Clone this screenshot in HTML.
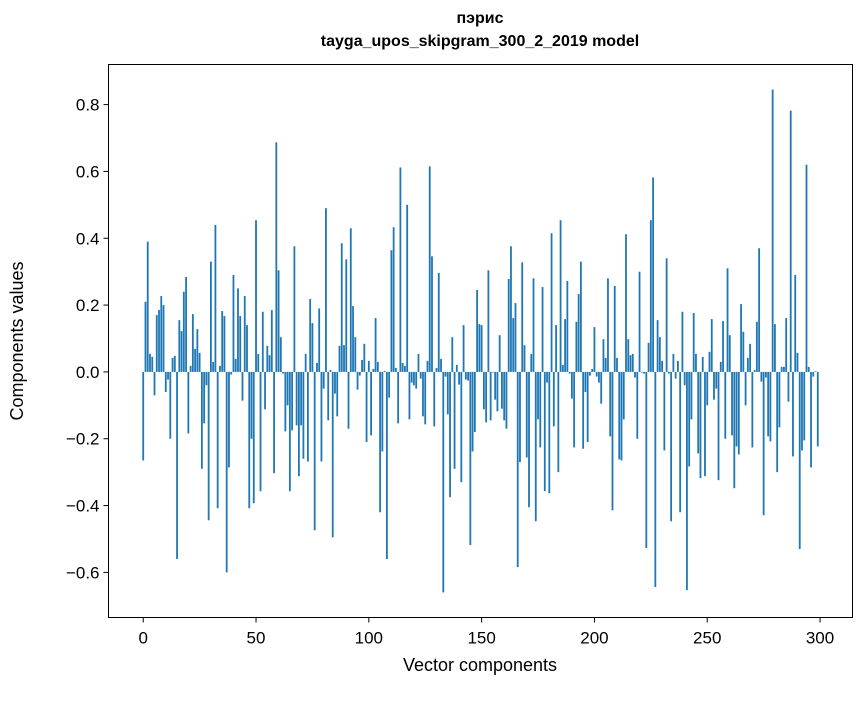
<!DOCTYPE html>
<html><head><meta charset="utf-8"><style>
body{margin:0;background:#fff;}
svg text{font-family:"Liberation Sans","DejaVu Sans",sans-serif;fill:#000;}
</style></head><body>
<svg id="chart" width="867" height="696" xmlns="http://www.w3.org/2000/svg">
<rect width="867" height="696" fill="#fff"/>
<text x="480" y="23" text-anchor="middle" font-size="16" font-weight="bold">пэрис</text>
<text x="480" y="46" text-anchor="middle" font-size="16" font-weight="bold">tayga_upos_skipgram_300_2_2019 model</text>
<g id="bars"></g>
<rect x="108.5" y="64.5" width="744" height="553" fill="none" stroke="#000" stroke-width="1"/>
<g id="xticks"></g>
<g id="yticks"></g>
<text x="480" y="671" text-anchor="middle" font-size="18">Vector components</text>
<text transform="translate(23,341) rotate(-90)" text-anchor="middle" font-size="18">Components values</text>
</svg>
<script>
const values=[-0.265,0.21,0.39,0.054,0.045,-0.07,0.17,0.185,0.227,0.2,
-0.06,-0.023,-0.2,0.042,0.048,-0.56,0.155,0.122,0.24,0.284,
-0.184,0.018,0.173,0.069,0.128,0.057,-0.29,-0.154,-0.04,-0.444,
0.33,0.03,0.44,-0.408,0.018,0.182,0.167,-0.6,-0.286,-0.008,
0.29,0.039,0.25,0.167,-0.086,0.227,0.14,-0.408,-0.2,-0.393,
0.454,0.054,-0.357,0.18,-0.112,0.078,0.05,0.185,-0.303,0.687,
0.304,0.104,-0.005,-0.178,-0.1,-0.357,-0.175,0.376,-0.16,-0.312,
-0.16,-0.26,0.054,-0.268,0.218,0.146,-0.474,0.027,0.19,-0.268,
-0.05,0.49,-0.145,0.006,-0.495,-0.065,-0.133,0.078,0.385,0.08,
0.337,-0.17,0.43,0.197,0.104,-0.053,-0.011,0.036,0.084,-0.21,
0.033,-0.19,0.009,0.161,0.03,-0.42,-0.238,0.003,-0.56,-0.077,
0.364,0.433,0.012,-0.154,0.612,0.027,0.018,0.5,-0.142,-0.032,
-0.04,-0.05,0.054,-0.02,-0.133,-0.157,0.033,0.615,0.346,-0.163,
0.012,0.296,0.039,-0.66,-0.014,-0.127,-0.375,0.104,-0.29,0.021,
-0.038,-0.33,0.14,-0.023,-0.026,-0.518,-0.238,-0.18,0.245,0.143,
0.14,-0.112,-0.151,0.304,-0.145,-0.002,-0.083,-0.118,0.11,-0.11,
-0.145,-0.17,0.278,0.376,0.161,0.206,-0.584,-0.27,0.328,0.08,
-0.256,-0.405,0.054,0.28,-0.447,-0.142,-0.226,0.254,-0.357,-0.032,
-0.363,0.415,-0.163,0.14,-0.3,0.454,0.021,0.158,0.272,-0.005,
-0.08,-0.226,0.15,0.233,0.33,-0.23,-0.06,-0.21,-0.011,0.009,
0.134,-0.014,-0.032,-0.095,0.098,0.042,0.28,-0.193,-0.414,0.257,
0.042,-0.262,-0.265,-0.142,0.412,0.098,0.05,0.054,-0.017,-0.2,
0.3,-0.002,-0.005,-0.527,0.087,0.454,0.582,-0.644,0.155,0.104,
0.033,-0.235,0.34,-0.005,-0.447,0.054,-0.02,0.033,-0.42,0.18,
-0.04,-0.653,-0.283,-0.142,0.176,0.054,-0.244,-0.318,0.045,-0.312,
-0.1,0.06,0.158,-0.083,-0.05,-0.324,0.03,0.152,-0.2,0.31,
0.11,-0.19,-0.348,-0.223,-0.247,0.203,0.12,-0.1,0.042,0.084,
-0.226,0.006,0.15,0.37,-0.029,-0.429,-0.017,-0.193,-0.208,0.845,
0.143,-0.3,-0.166,0.015,0.015,0.161,-0.089,0.782,-0.253,0.29,
0.057,-0.53,-0.235,-0.205,0.62,0.015,-0.286,-0.014,0.002,-0.223];
const xTicks=[0,50,100,150,200,250,300];
const yTicks=[-0.6,-0.4,-0.2,0.0,0.2,0.4,0.6,0.8];
const NS='http://www.w3.org/2000/svg';
const L=108.5,R=852.5,T=64.5,B=617.5;
const xMin=-15.39,xMax=314.39,yMin=-0.735,yMax=0.92;
function xs(v){return L+(v-xMin)/(xMax-xMin)*(R-L);}
function ys(v){return B-(v-yMin)/(yMax-yMin)*(B-T);}
const bars=document.getElementById('bars');
values.forEach((v,i)=>{
 const r=document.createElementNS(NS,'rect');
 const x0=xs(i-0.4),x1=xs(i+0.4);
 const y0=ys(Math.max(v,0)),y1=ys(Math.min(v,0));
 r.setAttribute('x',x0);r.setAttribute('width',x1-x0);
 r.setAttribute('y',y0);r.setAttribute('height',Math.max(y1-y0,0));
 r.setAttribute('fill','#1f77b4');
 
 
 bars.appendChild(r);
});
const xg=document.getElementById('xticks');
xTicks.forEach(t=>{
 const x=xs(t);
 const l=document.createElementNS(NS,'line');
 l.setAttribute('x1',x);l.setAttribute('x2',x);l.setAttribute('y1',B);l.setAttribute('y2',B+5);
 l.setAttribute('stroke','#000');
 
 
 xg.appendChild(l);
 const tx=document.createElementNS(NS,'text');
 tx.setAttribute('x',x);tx.setAttribute('y',B+26);tx.setAttribute('text-anchor','middle');tx.setAttribute('font-size','17');
 tx.textContent=String(t);
 
 
 xg.appendChild(tx);
});
const yg=document.getElementById('yticks');
yTicks.forEach(t=>{
 const y=ys(t);
 const l=document.createElementNS(NS,'line');
 l.setAttribute('x1',L-5);l.setAttribute('x2',L);l.setAttribute('y1',y);l.setAttribute('y2',y);
 l.setAttribute('stroke','#000');
 
 
 yg.appendChild(l);
 const tx=document.createElementNS(NS,'text');
 tx.setAttribute('x',L-9);tx.setAttribute('y',y+6);tx.setAttribute('text-anchor','end');tx.setAttribute('font-size','17');
 tx.textContent=(t<0?'\u2212':'')+Math.abs(t).toFixed(1);
 
 
 yg.appendChild(tx);
});
</script>
</body></html>
